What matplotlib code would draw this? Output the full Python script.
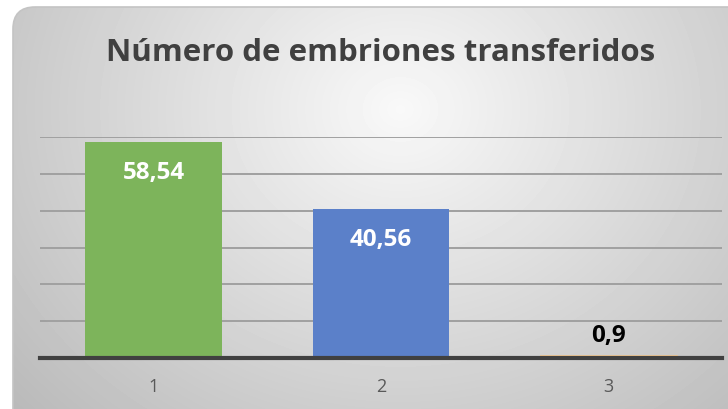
import matplotlib.pyplot as plt
import numpy as np
from matplotlib.patches import FancyBboxPatch

categorias = ['1', '2', '3']
valores = [58.54, 40.56, 0.9]
etiquetas = ['58,54', '40,56', '0,9']
colores = ['#7DB45B', '#5B80C9', '#FBEFC5']
color_etiquetas = ['white', 'white', 'black']

plt.rcParams['font.family'] = ['Open Sans', 'DejaVu Sans']

fig = plt.figure(figsize=(7.28, 4.10), dpi=100)
fig.patch.set_facecolor('white')

# fondo con degradado radial y esquinas redondeadas
bg = fig.add_axes([0, 0, 1, 1])
bg.set_xlim(0, 728)
bg.set_ylim(410, 0)
bg.axis('off')
yy, xx = np.mgrid[0:410, 0:728]
r = np.sqrt(((xx - 400) / 420.0) ** 2 + ((yy - 110) / 360.0) ** 2)
grad = np.clip(0.975 - 0.2 * r, 0.72, 1)
img = bg.imshow(grad, cmap='gray', vmin=0, vmax=1, extent=(0, 728, 410, 0), zorder=0)
caja = FancyBboxPatch((13, 8), 760, 440, boxstyle='round,pad=0,rounding_size=22',
                      facecolor='none', edgecolor='#c4c4c4', linewidth=1.2, zorder=1)
bg.add_patch(caja)
img.set_clip_path(caja)

ax = fig.add_axes([40 / 728, (410 - 359) / 410, 682 / 728, (359 - 138) / 410])
ax.patch.set_alpha(0)
x = np.arange(len(categorias))
barras = ax.bar(x, valores, width=0.6, color=colores, zorder=3)
barras[2].set_edgecolor('#F2C48A')
barras[2].set_linewidth(0.6)

ax.set_xlim(-0.5, 2.5)
ax.set_ylim(0, 60)
ax.set_yticks(np.arange(10, 61, 10))
ax.yaxis.grid(True, color='#a0a0a0', linewidth=1.4, zorder=0)
ax.set_axisbelow(True)
ax.tick_params(axis='y', left=False, labelleft=False)
ax.tick_params(axis='x', length=0, pad=14, labelsize=13, labelcolor='#595959')
ax.set_xticks(x)
ax.set_xticklabels(categorias)
for s in ['top', 'right', 'left']:
    ax.spines[s].set_visible(False)
ax.spines['bottom'].set_color('#404040')
ax.spines['bottom'].set_linewidth(3)
ax.spines['bottom'].set_zorder(4)

for xi, v, et, c in zip(x, valores, etiquetas, color_etiquetas):
    if v > 5:
        ax.annotate(et, (xi, v), xytext=(0, -26), textcoords='offset points',
                    ha='center', va='baseline', fontsize=17.5, fontweight='bold',
                    color=c, zorder=5)
    else:
        ax.annotate(et, (xi, v), xytext=(0, 9.5), textcoords='offset points',
                    ha='center', va='baseline', fontsize=17.5, fontweight='bold',
                    color=c, zorder=5)

fig.text(381 / 728, 1 - 61 / 410, 'Número de embriones transferidos', ha='center',
         va='baseline', fontsize=22.5, fontweight='bold', color='#404040')

fig.savefig('out.png', dpi=100)
